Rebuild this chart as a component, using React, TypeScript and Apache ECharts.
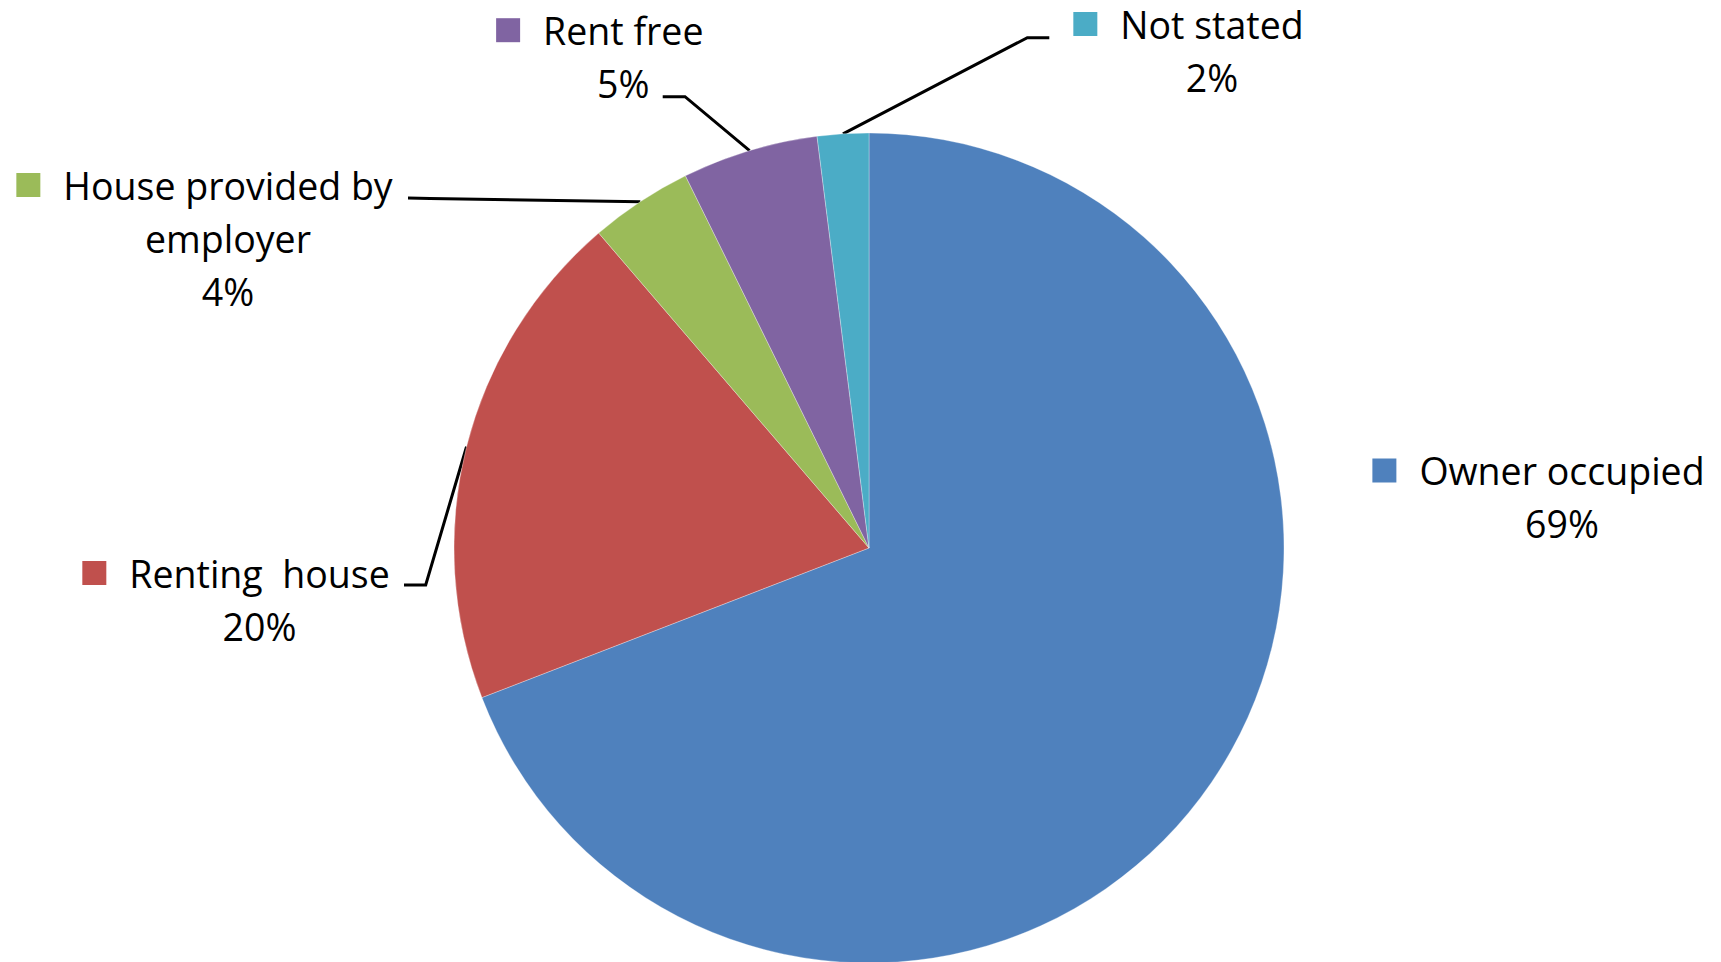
import React, { useEffect, useRef } from 'react';
import * as echarts from 'echarts';

// ---- data ----
const categories = ['Owner occupied', 'Renting  house', 'House provided by employer', 'Rent free', 'Not stated'];
const labelTextLines = [['Owner occupied'], ['Renting  house'], ['House provided by', 'employer'], ['Rent free'], ['Not stated']];
const shares = [69.2, 19.6, 4.0, 5.3, 2.0];

// ---- styles / layout ----
const colors = ['#4F81BD', '#C0504D', '#9BBB59', '#8064A2', '#4BACC6'];
const PIE_CENTER = [869, 548];
const PIE_RADIUS = 415;
const LABEL_ANCHORS = [
  [1538.5, 497],
  [236, 599.5],
  [204.5, 238],
  [599.8, 56.7],
  [1188.5, 50.5],
];
const LEADER_TAILS: (number[][] | null)[] = [
  null,
  [[425.7, 585], [404, 585]],
  [[430, 198.5], [408, 198]],
  [[685, 96.7], [662.7, 96.7]],
  [[1027.3, 37.7], [1049.3, 37.7]],
];
const FONT = '"Open Sans", sans-serif';
const FONT_SIZE = 37.5;
const LINE_H = 53;
const KEY = 24;
const KEY_GAP = 23;

export default function App() {
  const ref = useRef<HTMLDivElement>(null);
  useEffect(() => {
    const chart = echarts.init(ref.current!, null, { renderer: 'svg' });
    const rich: any = {
      pad: { width: KEY + KEY_GAP, lineHeight: LINE_H },
      gap: { width: KEY_GAP, lineHeight: LINE_H },
      t: { fontFamily: FONT, fontSize: FONT_SIZE, color: '#000', lineHeight: LINE_H },
    };
    colors.forEach((c, i) => {
      rich['k' + i] = { width: KEY, height: KEY, backgroundColor: c, lineHeight: LINE_H };
    });
    chart.setOption({
      animation: false,
      backgroundColor: '#fff',
      series: [
        {
          type: 'pie',
          center: PIE_CENTER,
          radius: PIE_RADIUS,
          startAngle: 90,
          clockwise: true,
          avoidLabelOverlap: false,
          emphasis: { disabled: true },
          itemStyle: { borderColor: 'rgba(255,255,255,0.5)', borderWidth: 0.6 },
          label: {
            show: true,
            position: 'outside',
            overflow: 'none',
            fontFamily: FONT,
            fontSize: FONT_SIZE,
            color: '#000',
            rich,
            formatter: (p: any) => {
              const i = p.dataIndex;
              const lines = labelTextLines[i];
              const out = [`{k${i}|}{gap|}{t|${lines[0]}}`];
              for (let j = 1; j < lines.length; j++) out.push(`{pad|}{t|${lines[j]}}`);
              out.push(`{pad|}{t|${Math.round(p.percent)}%}`);
              return out.join('\n');
            },
          },
          labelLine: { show: true, lineStyle: { color: '#000', width: 3 } },
          labelLayout: (params: any) => {
            const i = params.dataIndex;
            const [x, y] = LABEL_ANCHORS[i];
            const res: any = { x, y, align: 'center', verticalAlign: 'middle' };
            const tail = LEADER_TAILS[i];
            if (tail && params.labelLinePoints && params.labelLinePoints.length) {
              res.labelLinePoints = [params.labelLinePoints[0], ...tail];
            }
            return res;
          },
          data: categories.map((name, i) => ({
            name,
            value: shares[i],
            itemStyle: { color: colors[i] },
            labelLine: i === 0 ? { show: false } : undefined,
          })),
        },
      ],
    });
    return () => chart.dispose();
  }, []);
  return (
    <div
      ref={ref}
      style={{ position: 'absolute', left: 0, top: 0, width: 1721, height: 962, background: '#fff' }}
    />
  );
}
